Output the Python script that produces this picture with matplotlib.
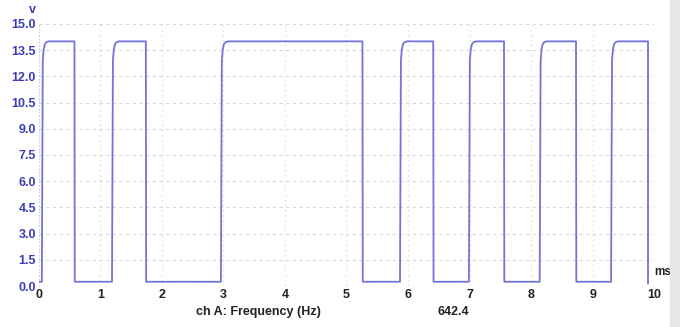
import matplotlib.pyplot as plt
import numpy as np

# edge times (ms)
rise_times = [0.05, 1.19, 2.96, 5.87, 6.99, 8.14, 9.30]
fall_times = [0.58, 1.74, 5.26, 6.41, 7.56, 8.73, 9.90]
v_high = 14.0
v_low = 0.25
end_volts = 0.15
# rounded top of each rising edge: (offset ms, volts)
corner = [(0.0, 0.25), (0.015, 12.9), (0.03, 13.55), (0.05, 13.85), (0.08, 13.97), (0.12, 14.0)]

y_ticks = [0.0, 1.5, 3.0, 4.5, 6.0, 7.5, 9.0, 10.5, 12.0, 13.5, 15.0]
x_ticks = list(range(0, 11))
channel_label = "ch A: Frequency (Hz)"
channel_value = "642.4"

line_col = "#7474d6"
blue = "#3c3cb4"
font = "Liberation Sans"

# build the trace from the edges
t, v = [0.0], [v_low]
for r, f in zip(rise_times, fall_times):
    for dt, dv in corner:
        t.append(r + dt)
        v.append(dv)
    t += [f, f + 0.005]
    v += [v_high, v_low]
t[-1] = fall_times[-1]
v[-1] = end_volts

fig = plt.figure(figsize=(6.8, 3.27), dpi=100)
fig.patches.append(plt.Rectangle((0.985, 0), 0.015, 1, transform=fig.transFigure,
                                 color="#e6e6e6", zorder=0))
ax = fig.add_axes([0.057, 0.125, 0.905, 0.802])

ax.plot(t, v, color=line_col, lw=1.3, zorder=3)

ax.set_xlim(0, 10)
ax.set_ylim(0, 15)
ax.set_xticks(x_ticks)
ax.set_yticks(y_ticks)
ax.set_yticklabels([f"{y:.1f}" for y in y_ticks])
ax.grid(True, axis="y", ls=(0, (3, 3)), lw=0.8, color="#d8d8d8")
ax.grid(True, axis="x", ls=(0, (1, 3)), lw=0.9, color="#d8d8d8")
for s in ax.spines.values():
    s.set_visible(False)
ax.axvline(0, color="#c8c8c8", lw=0.8, ls=(0, (1, 2)))
ax.tick_params(length=0, pad=2)
for lb in ax.get_yticklabels():
    lb.set(color=blue, fontweight="bold", fontfamily=font, fontsize=9)
for lb in ax.get_xticklabels():
    lb.set(color="#222222", fontweight="bold", fontfamily=font, fontsize=9)

ax.text(-0.01, 1.03, "v", transform=ax.transAxes, color=blue, fontweight="bold",
        fontfamily=font, fontsize=9, ha="center", va="bottom")
ax.text(1.0, 0.03, "ms", transform=ax.transAxes, color="#222222", fontweight="bold",
        fontfamily=font, fontsize=8.5, ha="left", va="bottom")
fig.text(0.38, 0.045, channel_label, color="#222222", fontweight="bold",
         fontfamily=font, fontsize=9, ha="center", va="center")
fig.text(0.667, 0.045, channel_value, color="#222222", fontweight="bold",
         fontfamily=font, fontsize=9, ha="center", va="center")

fig.savefig("out.png", dpi=100)
